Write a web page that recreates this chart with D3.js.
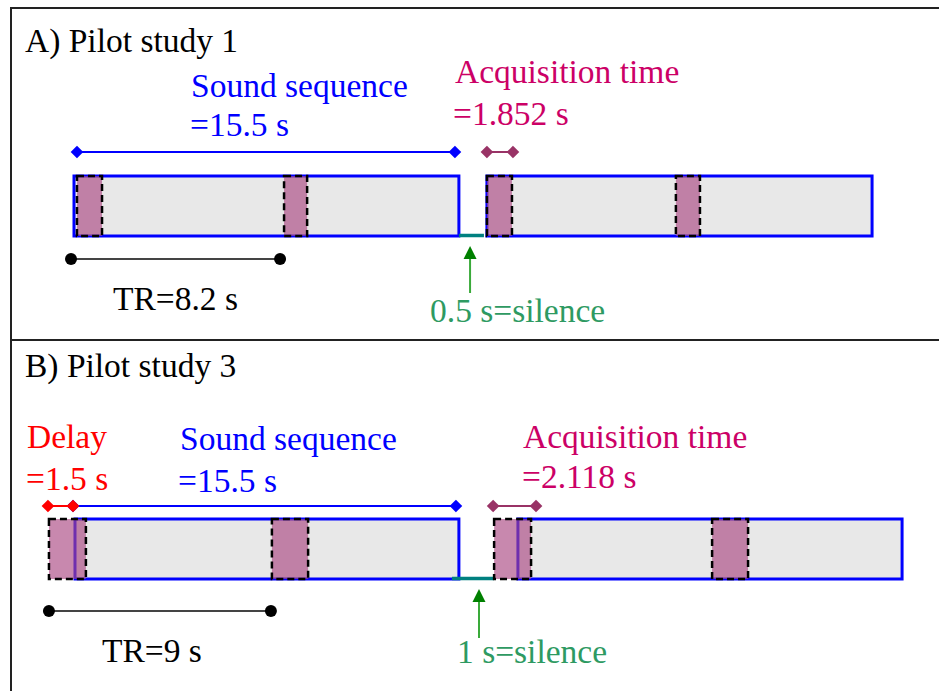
<!DOCTYPE html>
<html>
<head>
<meta charset="utf-8">
<script src="https://cdn.jsdelivr.net/npm/d3@7"></script>
<style>
  html, body { margin: 0; padding: 0; background: #fff; }
  text { font-family: "Liberation Serif", "Times New Roman", serif; }
</style>
</head>
<body>
<div id="chart"></div>
<script>
// times in seconds as drawn, t = 0 at the left end of the first sound sequence (panel A)
const panelTitles = ['A) Pilot study 1', 'B) Pilot study 3']

const seqA = [[0, 15.52], [16.65, 32.18]]
const acqA = [[0.12, 1.13], [8.47, 9.40], [16.65, 17.66], [24.27, 25.24]]
const silenceA = [15.52, 16.53]
const trA = [-0.12, 8.31]
const spansA = [
    { kind: 'sound', span: [0.12, 15.36] },
    { kind: 'acq', span: [16.65, 17.70] },
]
const arrowA = 15.97

const seqB = [[0.04, 15.52], [17.90, 33.39]]
const acqB = [[-1.01, 0.48], [7.98, 9.44], [16.94, 18.43], [25.73, 27.18]]
const silenceB = [15.24, 16.94]
const trB = [-1.01, 7.94]
const spansB = [
    { kind: 'sound', span: [-0.04, 15.40] },
    { kind: 'delay', span: [-1.05, -0.04] },
    { kind: 'acq', span: [16.90, 18.63] },
]
const arrowB = 16.33

const labelsA = [
    { text: 'Sound sequence', kind: 'sound' }, { text: '=15.5 s', kind: 'sound' },
    { text: 'Acquisition time', kind: 'acq' }, { text: '=1.852 s', kind: 'acq' },
    { text: 'TR=8.2 s', kind: 'tr' }, { text: '0.5 s=silence', kind: 'silence' },
]
const labelsB = [
    { text: 'Delay', kind: 'delay' }, { text: '=1.5 s', kind: 'delay' },
    { text: 'Sound sequence', kind: 'sound' }, { text: '=15.5 s', kind: 'sound' },
    { text: 'Acquisition time', kind: 'acq' }, { text: '=2.118 s', kind: 'acq' },
    { text: 'TR=9 s', kind: 'tr' }, { text: '1 s=silence', kind: 'silence' },
]

const colors = {
    sound: '#0000ff',
    acq: '#cc0066',
    acqSpan: '#993366',
    delay: '#ff0000',
    tr: '#000000',
    silence: '#2e9a62',
    silenceLine: '#008080',
    bar: '#e8e8e8',
    block: 'rgb(170,72,130)',
}

const width = 939
const height = 691
const fontSize = '33.5px'

const svg = d3.select('#chart')
    .append('svg')
    .attr('width', width)
    .attr('height', height)
    .attr('viewBox', `0 0 ${width} ${height}`)

const x = d3.scaleLinear()
    .domain([0, 10])
    .range([74, 322])

// layout of each panel (pixel positions of rows, label anchors)
const panels = [
    {
        title: panelTitles[0], top: 8, bottom: 340,
        seq: seqA, acq: acqA, silence: silenceA, tr: trA, spans: spansA, arrow: arrowA, labels: labelsA,
        barTop: 176, barBottom: 236, spanY: 152, trY: 259, arrowTip: 246, arrowTail: 293,
        titleY: 52,
        labelPos: [[191, 97], [190, 136], [455, 83], [453, 125], [113, 310], [430, 322]],
    },
    {
        title: panelTitles[1], top: 340, bottom: 700,
        seq: seqB, acq: acqB, silence: silenceB, tr: trB, spans: spansB, arrow: arrowB, labels: labelsB,
        barTop: 519, barBottom: 579, spanY: 506, trY: 611, arrowTip: 589, arrowTail: 638,
        titleY: 377,
        labelPos: [[27, 448], [26, 490], [180, 450], [178, 492], [523, 448], [522, 488], [102, 662], [457, 663]],
    },
]

const diamond = d3.symbol().type(d3.symbolSquare).size(80)

panels.forEach(p => {
    const g = svg.append('g')

    // frame
    g.append('rect')
        .attr('x', 11)
        .attr('y', p.top)
        .attr('width', width + 20)
        .attr('height', p.bottom - p.top)
        .attr('fill', 'none')
        .attr('stroke', '#222')
        .attr('stroke-width', 2)

    g.append('text')
        .attr('x', 25)
        .attr('y', p.titleY)
        .attr('font-size', fontSize)
        .attr('fill', '#000')
        .text(p.title)

    // sound sequences
    g.selectAll('rect.seq')
        .data(p.seq)
        .enter()
        .append('rect')
        .attr('class', 'seq')
        .attr('x', d => x(d[0]))
        .attr('y', p.barTop)
        .attr('width', d => x(d[1]) - x(d[0]))
        .attr('height', p.barBottom - p.barTop)
        .attr('fill', colors.bar)
        .attr('stroke', colors.sound)
        .attr('stroke-width', 3)

    // silence
    g.append('line')
        .attr('x1', x(p.silence[0]))
        .attr('x2', x(p.silence[1]))
        .attr('y1', p.barBottom - 0.5)
        .attr('y2', p.barBottom - 0.5)
        .attr('stroke', colors.silenceLine)
        .attr('stroke-width', 3.5)

    // acquisition blocks
    g.selectAll('rect.acq')
        .data(p.acq)
        .enter()
        .append('rect')
        .attr('class', 'acq')
        .attr('x', d => x(d[0]))
        .attr('y', p.barTop)
        .attr('width', d => x(d[1]) - x(d[0]))
        .attr('height', p.barBottom - p.barTop)
        .attr('fill', colors.block)
        .attr('fill-opacity', 0.65)
        .attr('stroke', '#000')
        .attr('stroke-width', 2.5)
        .attr('stroke-dasharray', '7,4')

    // spans with diamond ends
    p.spans.forEach(s => {
        const c = s.kind === 'acq' ? colors.acqSpan : colors[s.kind]
        g.append('line')
            .attr('x1', x(s.span[0]))
            .attr('x2', x(s.span[1]))
            .attr('y1', p.spanY)
            .attr('y2', p.spanY)
            .attr('stroke', c)
            .attr('stroke-width', 2)
        g.selectAll(null)
            .data(s.span)
            .enter()
            .append('path')
            .attr('d', diamond)
            .attr('transform', d => `translate(${x(d)}, ${p.spanY}) rotate(45)`)
            .attr('fill', c)
    })

    // TR
    g.append('line')
        .attr('x1', x(p.tr[0]))
        .attr('x2', x(p.tr[1]))
        .attr('y1', p.trY)
        .attr('y2', p.trY)
        .attr('stroke', '#444')
        .attr('stroke-width', 2)
    g.selectAll('circle')
        .data(p.tr)
        .enter()
        .append('circle')
        .attr('cx', d => x(d))
        .attr('cy', p.trY)
        .attr('r', 6)
        .attr('fill', '#000')

    // arrow to the silence
    const ax = x(p.arrow)
    g.append('line')
        .attr('x1', ax)
        .attr('x2', ax)
        .attr('y1', p.arrowTail)
        .attr('y2', p.arrowTip + 12)
        .attr('stroke', '#3aaa3a')
        .attr('stroke-width', 2)
    g.append('path')
        .attr('d', `M${ax},${p.arrowTip} L${ax - 6.5},${p.arrowTip + 13} L${ax + 6.5},${p.arrowTip + 13} Z`)
        .attr('fill', '#008000')

    // labels
    g.selectAll('text.label')
        .data(p.labels)
        .enter()
        .append('text')
        .attr('class', 'label')
        .attr('x', (d, i) => p.labelPos[i][0])
        .attr('y', (d, i) => p.labelPos[i][1])
        .attr('font-size', fontSize)
        .attr('fill', d => colors[d.kind])
        .text(d => d.text)
})
</script>
</body>
</html>
